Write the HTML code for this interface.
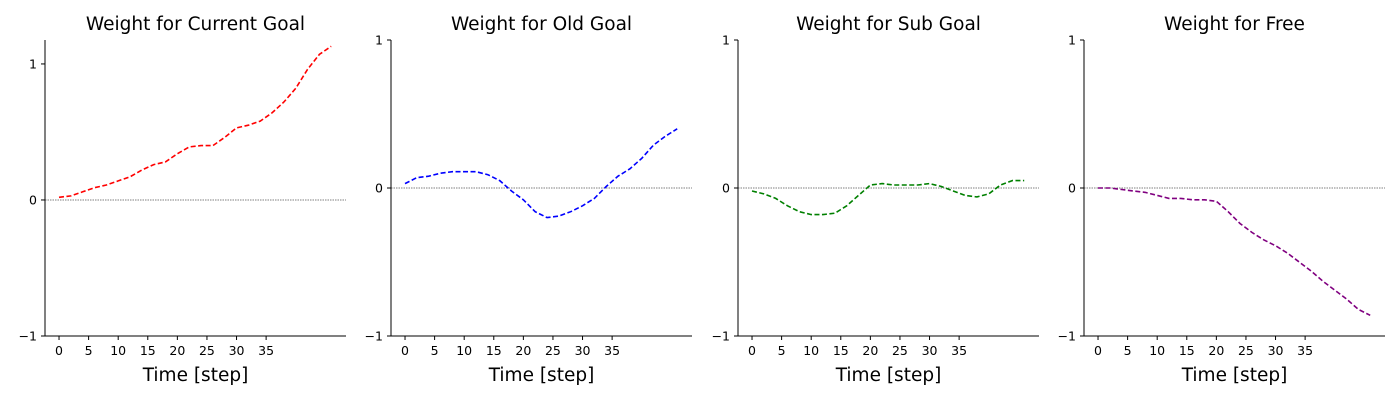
<!DOCTYPE html>
<html><head><meta charset="utf-8"><style>
body{margin:0;background:#fff;}
svg{display:block;font-family:"DejaVu Sans","Liberation Sans",sans-serif;}
</style></head><body>
<svg id="chart" width="1400" height="400" xmlns="http://www.w3.org/2000/svg"></svg>
<script>
const steps = [0,2,4,6,8,10,12,14,16,18,20,22,24,26,28,30,32,34,36,38,40,42,44,46];
const currentGoal = [0.02,0.03,0.06,0.09,0.11,0.14,0.17,0.22,0.26,0.28,0.34,0.39,0.40,0.40,0.46,0.53,0.55,0.58,0.64,0.72,0.82,0.96,1.07,1.13];
const oldGoal = [0.03,0.07,0.08,0.10,0.11,0.11,0.11,0.09,0.05,-0.02,-0.08,-0.16,-0.20,-0.19,-0.16,-0.12,-0.07,0.01,0.08,0.13,0.20,0.29,0.35,0.40];
const subGoal = [-0.02,-0.04,-0.07,-0.12,-0.16,-0.18,-0.18,-0.17,-0.12,-0.05,0.02,0.03,0.02,0.02,0.02,0.03,0.01,-0.02,-0.05,-0.06,-0.04,0.02,0.05,0.05];
const free = [0,0,-0.01,-0.02,-0.03,-0.05,-0.07,-0.07,-0.08,-0.08,-0.09,-0.16,-0.24,-0.30,-0.35,-0.39,-0.44,-0.50,-0.56,-0.63,-0.69,-0.75,-0.82,-0.86];
const xTicks = [0,5,10,15,20,25,30,35];
const yTicks = [-1,0,1];
const titles = ["Weight for Current Goal","Weight for Old Goal","Weight for Sub Goal","Weight for Free"];
const colors = ["red","blue","green","purple"];
const series = [currentGoal, oldGoal, subGoal, free];
const yMaxes = [1.176, 1, 1, 1];

const svg = document.getElementById('chart');
const NS = "http://www.w3.org/2000/svg";
function mk(tag, attrs, parent){const e=document.createElementNS(NS,tag);for(const k in attrs)e.setAttribute(k,attrs[k]);(parent||svg).appendChild(e);return e;}
const lefts=[45,391,738,1084], W=301, plotTop=40, plotBottom=336;
const xMin=-2.37, xMax=48.5;
for(let p=0;p<4;p++){
  const g=mk('g',{});
  
  
  const L=lefts[p], yMin=-1, yMax=yMaxes[p];
  const X=v=>L+(v-xMin)/(xMax-xMin)*W;
  const Y=v=>plotBottom-(v-yMin)/(yMax-yMin)*(plotBottom-plotTop);
  const t=mk('text',{x:L+W/2,y:30,'text-anchor':'middle','font-size':'18.5'},g);t.textContent=titles[p];
  
  
  const z=mk('line',{x1:L,x2:L+W,y1:Y(0),y2:Y(0),stroke:'#555','stroke-width':0.8,'stroke-dasharray':'1.5,1'},g);
  
  
  const ys=series[p];
  const d=steps.map((s,i)=>(i?'L':'M')+X(s).toFixed(1)+','+Y(ys[i]).toFixed(1)).join(' ');
  const path=mk('path',{d:d,fill:'none',stroke:colors[p],'stroke-width':1.6,'stroke-dasharray':'5,2.5'},g);
  
  
  const ax=mk('path',{d:`M${L},${plotTop} L${L},${plotBottom} L${L+W},${plotBottom}`,fill:'none',stroke:'#000','stroke-width':1},g);
  
  
  xTicks.forEach(v=>{
    mk('line',{x1:X(v),x2:X(v),y1:plotBottom,y2:plotBottom+4,stroke:'#000'},g);
    const tx=mk('text',{x:X(v),y:plotBottom+19,'text-anchor':'middle','font-size':'12.5'},g);tx.textContent=v;
    
    
  });
  yTicks.forEach(v=>{
    mk('line',{x1:L-4,x2:L,y1:Y(v),y2:Y(v),stroke:'#000'},g);
    const ty=mk('text',{x:L-8,y:Y(v)+4.5,'text-anchor':'end','font-size':'12.5'},g);ty.textContent=v===-1?'\u22121':v;
    
    
  });
  const xl=mk('text',{x:L+W/2,y:381,'text-anchor':'middle','font-size':'18.5'},g);xl.textContent='Time [step]';
  
  
}
</script>
</body></html>
